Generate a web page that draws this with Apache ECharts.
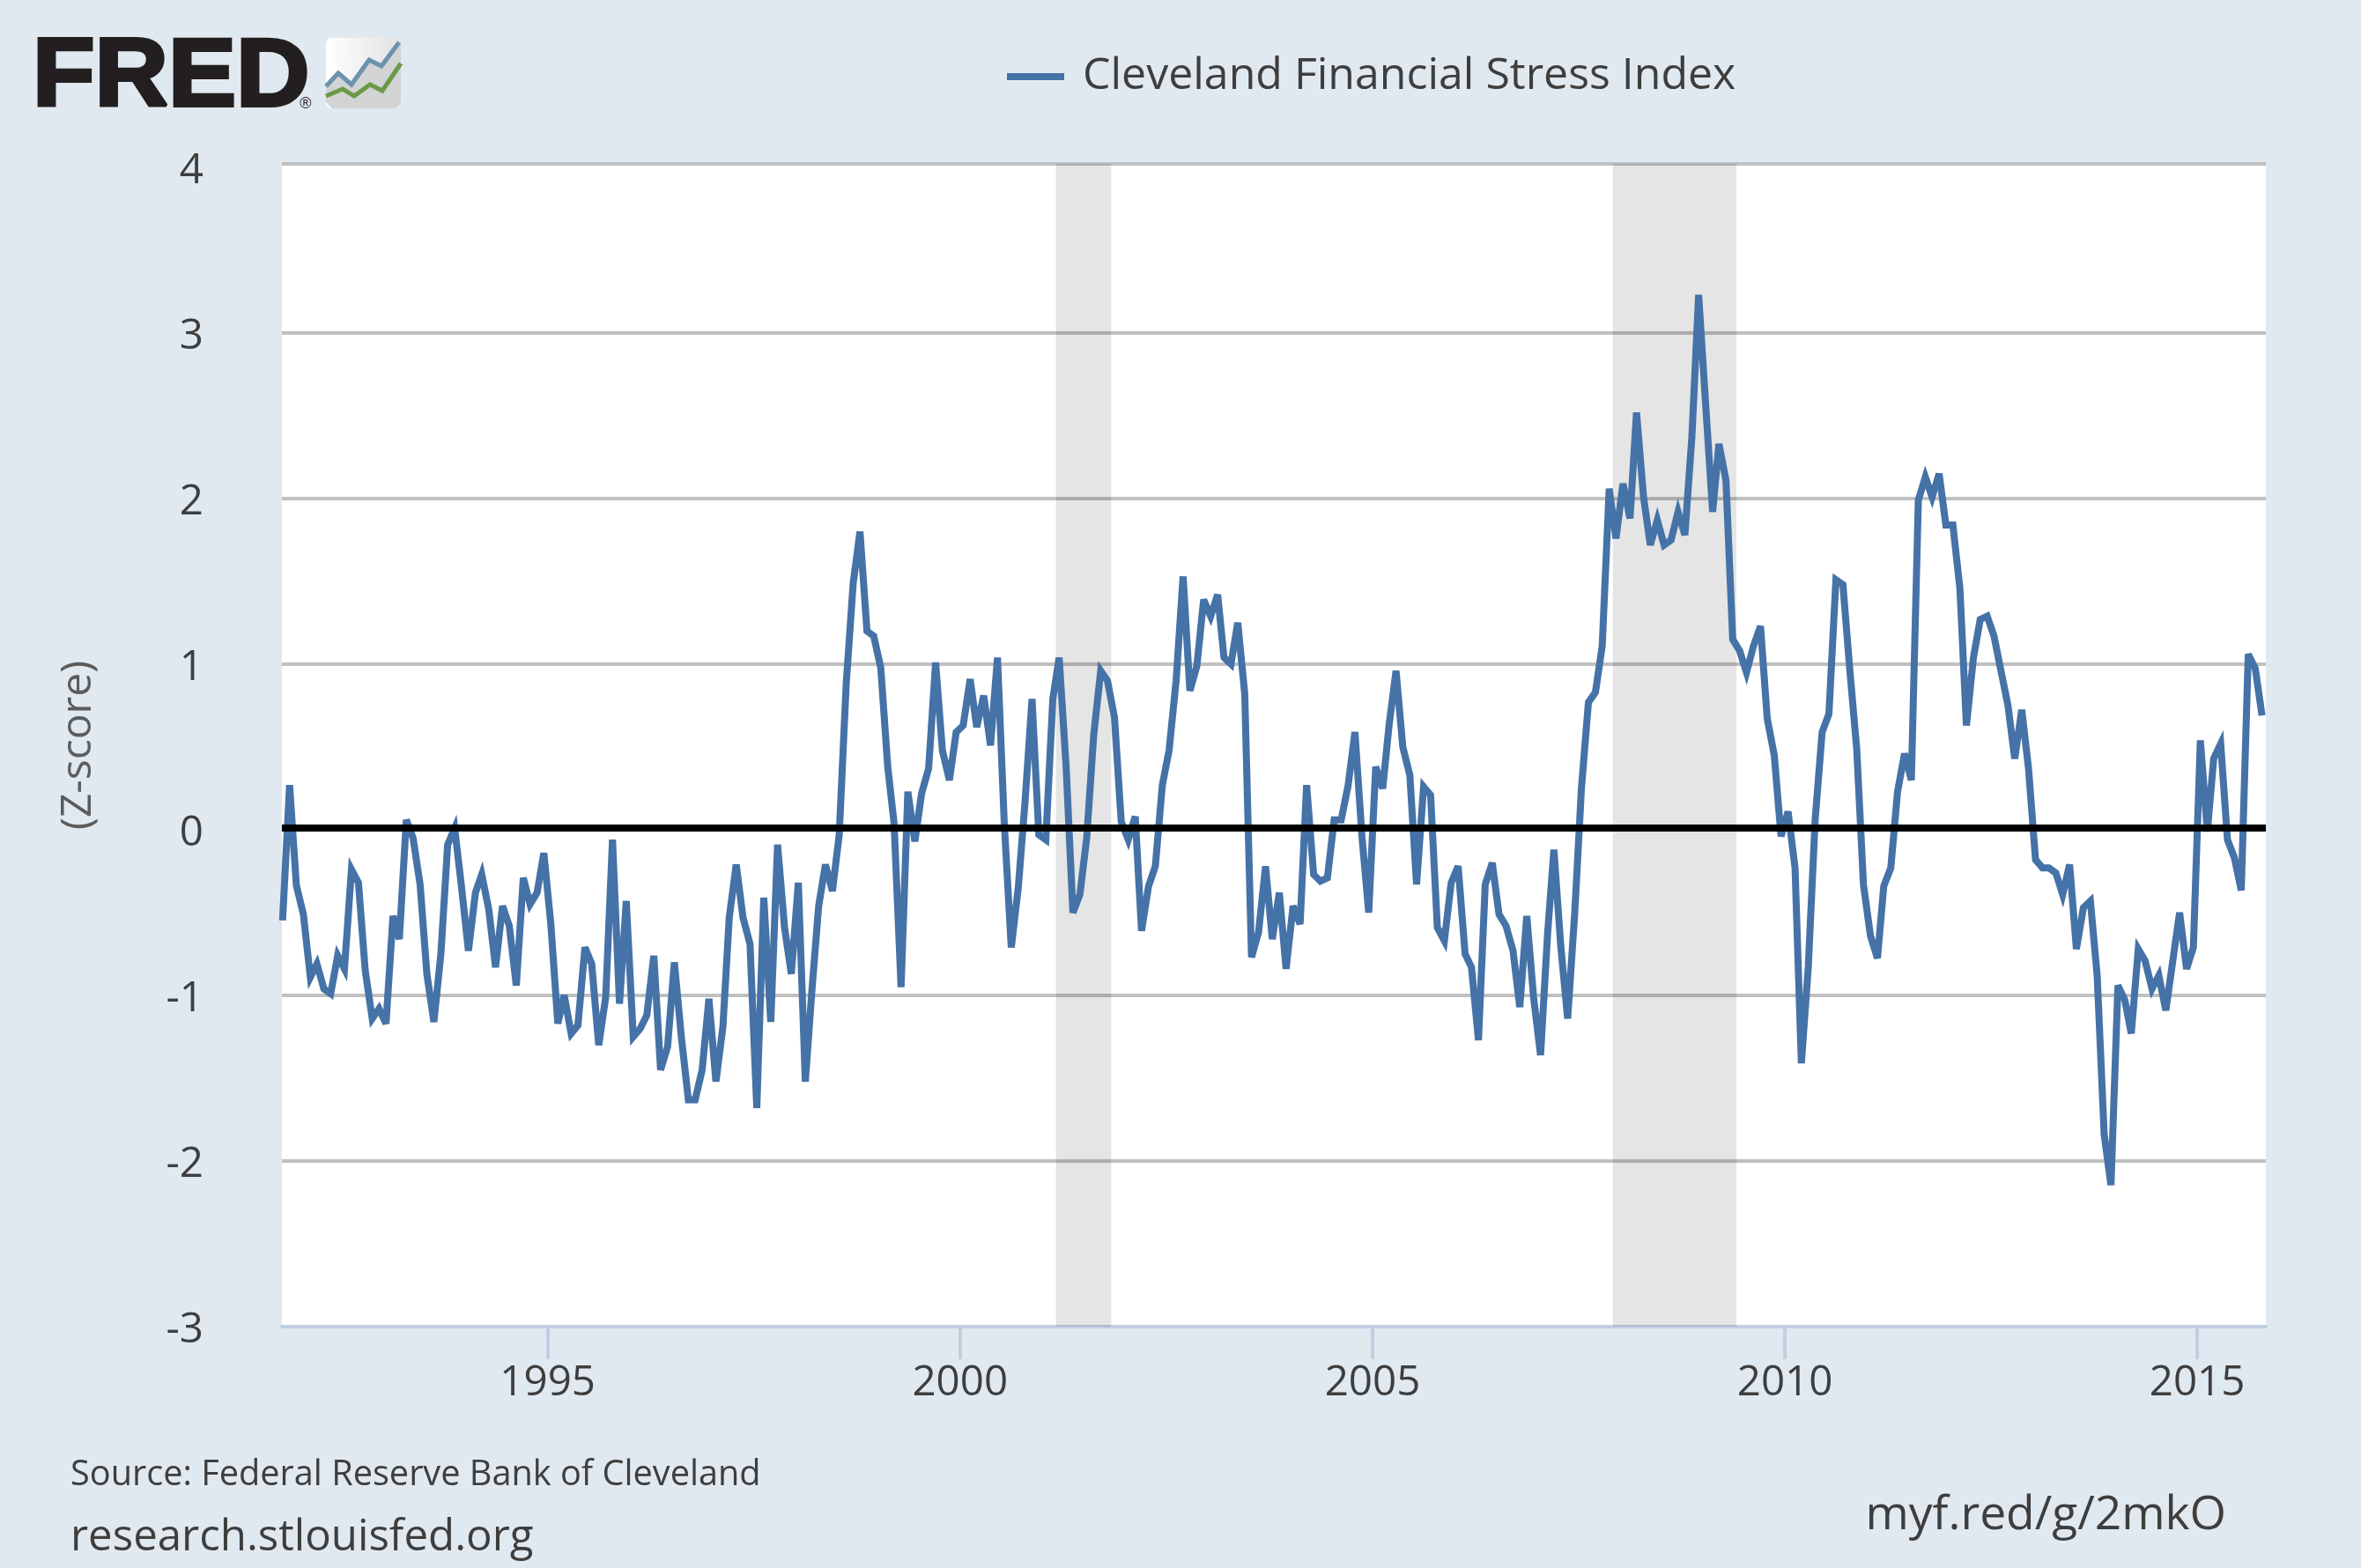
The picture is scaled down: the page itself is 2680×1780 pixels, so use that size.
<!DOCTYPE html>
<html>
<head>
<meta charset="utf-8">
<style>html,body{margin:0;padding:0;background:#e1e9f0}#c{width:2680px;height:1780px}</style>
<script src="https://cdn.jsdelivr.net/npm/echarts@6/dist/echarts.min.js"></script>
</head>
<body>
<div id="c"></div>
<script>
const seriesName = 'Cleveland Financial Stress Index';
const yTicks = [-3, -2, -1, 0, 1, 2, 3, 4];
const yGridLines = [-3, -2, -1, 0, 1, 2, 3, 4.0213];
const yPlotTop = 4.0213;
const zeroLine = 0.01;
const xTickYears = [1995, 2000, 2005, 2010, 2015];
const recessions = [[[2001, 2], [2001, 10]], [[2007, 11], [2009, 5]]];
const firstMonth = [1991, 9];
const values = [
-0.547,0.27,-0.335,-0.51,-0.89,-0.81,-0.96,-0.99,-0.76,-0.84,
-0.24,-0.32,-0.85,-1.14,-1.08,-1.17,-0.52,-0.66,0.06,-0.05,
-0.33,-0.87,-1.16,-0.75,-0.09,0.01,-0.34,-0.73,-0.38,-0.27,
-0.48,-0.83,-0.46,-0.58,-0.94,-0.29,-0.45,-0.38,-0.14,-0.57,
-1.17,-1.0,-1.23,-1.18,-0.71,-0.81,-1.3,-1.01,-0.06,-1.05,
-0.43,-1.25,-1.2,-1.12,-0.76,-1.45,-1.31,-0.8,-1.25,-1.63,
-1.63,-1.45,-1.02,-1.52,-1.19,-0.53,-0.21,-0.53,-0.69,-1.68,
-0.41,-1.16,-0.09,-0.59,-0.87,-0.32,-1.52,-0.99,-0.46,-0.21,
-0.37,-0.03,0.88,1.49,1.8,1.2,1.17,0.98,0.38,0.04,
-0.95,0.23,-0.07,0.22,0.37,1.01,0.48,0.3,0.59,0.63,
0.91,0.62,0.81,0.51,1.04,0.04,-0.71,-0.35,0.17,0.79,
-0.03,-0.06,0.79,1.04,0.38,-0.5,-0.39,-0.05,0.57,0.96,
0.9,0.68,0.05,-0.06,0.08,-0.61,-0.34,-0.22,0.27,0.48,
0.9,1.53,0.84,0.99,1.39,1.29,1.42,1.04,1.0,1.25,
0.82,-0.77,-0.62,-0.22,-0.66,-0.38,-0.84,-0.46,-0.57,0.27,
-0.27,-0.31,-0.29,0.06,0.06,0.27,0.59,-0.04,-0.5,0.38,
0.25,0.63,0.96,0.5,0.33,-0.33,0.26,0.21,-0.59,-0.67,
-0.32,-0.22,-0.75,-0.83,-1.27,-0.33,-0.2,-0.51,-0.58,-0.73,
-1.07,-0.52,-1.01,-1.36,-0.63,-0.12,-0.71,-1.14,-0.51,0.25,
0.77,0.83,1.11,2.06,1.76,2.09,1.88,2.52,2.01,1.72,
1.87,1.72,1.75,1.92,1.78,2.37,3.23,2.57,1.92,2.33,
2.11,1.15,1.08,0.95,1.11,1.23,0.67,0.45,-0.04,0.11,
-0.23,-1.41,-0.82,0.06,0.59,0.7,1.51,1.48,0.975,0.49,
-0.33,-0.64,-0.775,-0.34,-0.23,0.23,0.46,0.3,1.99,2.13,
2.01,2.15,1.84,1.84,1.46,0.63,1.04,1.27,1.29,1.17,
0.96,0.75,0.43,0.725,0.37,-0.18,-0.23,-0.23,-0.26,-0.39,
-0.21,-0.72,-0.47,-0.43,-0.88,-1.84,-2.145,-0.94,-1.03,-1.23,
-0.72,-0.79,-0.96,-0.88,-1.09,-0.79,-0.5,-0.84,-0.71,0.54,
-0.01,0.43,0.52,-0.06,-0.17,-0.365,1.06,0.975,0.69
];

const points = values.map((v, i) => [Date.UTC(firstMonth[0], firstMonth[1] + i, 15), v]);
const ink = '#3e3e3e';
const font = '"Open Sans"';
const chart = echarts.init(document.getElementById('c'), null, {renderer: 'canvas', width: 2680, height: 1780, devicePixelRatio: 1});
const yearTicks = xTickYears.map(y => Date.UTC(y, 0, 1));

chart.setOption({
  animation: false,
  backgroundColor: '#e1e9f0',
  textStyle: {fontFamily: font},
  legend: {
    show: true, left: 1138, top: 57, icon: 'rect', itemWidth: 65, itemHeight: 8,
    data: [seriesName], selectedMode: false,
    textStyle: {color: ink, fontSize: 50, fontFamily: font, padding: [0, 0, 0, 16]}
  },
  grid: {left: 320, right: 108, top: 186, bottom: 274, backgroundColor: '#ffffff', show: true, borderWidth: 0},
  xAxis: {
    type: 'value', scale: true,
    min: Date.UTC(1991, 9, 12), max: Date.UTC(2015, 10, 1),
    axisLine: {onZero: false, lineStyle: {color: '#c0d0e1', width: 4}},
    axisTick: {show: true, length: 37, lineStyle: {color: '#c0d0e1', width: 4}, customValues: yearTicks},
    axisLabel: {margin: 40, fontSize: 47.5, color: ink, fontFamily: font, customValues: yearTicks,
      formatter: v => String(new Date(v).getUTCFullYear())},
    splitLine: {show: false}, minorTick: {show: false}
  },
  yAxis: {
    type: 'value', min: yTicks[0], max: yPlotTop, interval: 1,
    name: '(Z-score)', nameLocation: 'middle', nameGap: 207, nameRotate: 90,
    nameTextStyle: {fontSize: 48, color: '#5c5c5c', fontFamily: font},
    axisLine: {show: false}, axisTick: {show: false, customValues: yGridLines},
    axisLabel: {margin: 89, color: ink, fontFamily: font, customValues: yTicks,
      formatter: '{v|{value}}',
      rich: {v: {fontSize: 47.5, color: ink, fontFamily: font, padding: [8, 0, 0, 0]}}},
    splitLine: {show: true, lineStyle: {color: '#c0c0c0', width: 4}}
  },
  series: [{
    name: seriesName, type: 'line', data: points, showSymbol: false, symbol: 'none',
    color: '#4572a7', smooth: false, clip: true, z: 3,
    lineStyle: {color: '#4572a7', width: 8, join: 'miter', miterLimit: 4, cap: 'butt'},
    itemStyle: {color: '#4572a7'},
    markArea: {
      silent: true, z: 1,
      itemStyle: {color: 'rgba(0,0,0,0.1)'},
      data: recessions.map(r => [{xAxis: Date.UTC(r[0][0], r[0][1], 1)}, {xAxis: Date.UTC(r[1][0], r[1][1], 1)}])
    },
    markLine: {
      silent: true, symbol: 'none', z: 5, animation: false,
      label: {show: false},
      lineStyle: {color: '#000000', width: 8, type: 'solid'},
      data: [{yAxis: zeroLine}]
    }
  }],
  graphic: [
    {type: 'text', z: 10, x: 37, y: 90, scaleX: 1.05, style: {text: 'FRED', x: 0, y: 0, verticalAlign: 'middle', font: 'bold 110px "Liberation Sans"', fill: '#231f20', stroke: '#231f20', lineWidth: 4}},
    {type: 'text', z: 10, style: {text: '®', x: 347, y: 118, align: 'center', verticalAlign: 'middle', font: '18px "Liberation Sans"', fill: '#231f20'}},
    {type: 'rect', z: 10, shape: {x: 370, y: 43, width: 85, height: 80, r: 7},
      style: {fill: {type: 'linear', x: 0, y: 0, x2: 1, y2: 0, colorStops: [{offset: 0, color: '#ffffff'}, {offset: 1, color: '#e2e2e2'}]}}},
    {type: 'polygon', z: 10, shape: {points: [[370,98],[384,83],[399,96],[419,68],[433,75],[455,48],[455,116],[448,123],[377,123],[370,116]]}, style: {fill: '#d2d3d4'}},
    {type: 'polyline', z: 11, shape: {points: [[370,98],[384,83],[399,96],[419,68],[433,75],[453,48]]}, style: {stroke: '#6a93ad', lineWidth: 5, fill: 'none'}},
    {type: 'polyline', z: 11, shape: {points: [[370,109],[389,101],[402,109],[420,96],[434,103],[455,72]]}, style: {stroke: '#6b9a46', lineWidth: 5, fill: 'none'}},
    {type: 'text', z: 10, style: {text: 'Source: Federal Reserve Bank of Cleveland', x: 80, y: 1675, verticalAlign: 'middle', font: '39.7px "Open Sans"', fill: ink}},
    {type: 'text', z: 10, style: {text: 'research.stlouisfed.org', x: 80, y: 1746, verticalAlign: 'middle', font: '49.2px "Open Sans"', fill: ink}},
    {type: 'text', z: 10, style: {text: 'myf.red/g/2mkO', x: 2527, y: 1721, align: 'right', verticalAlign: 'middle', font: '53.3px "Open Sans"', fill: ink}}
  ]
});
</script>
</body>
</html>
